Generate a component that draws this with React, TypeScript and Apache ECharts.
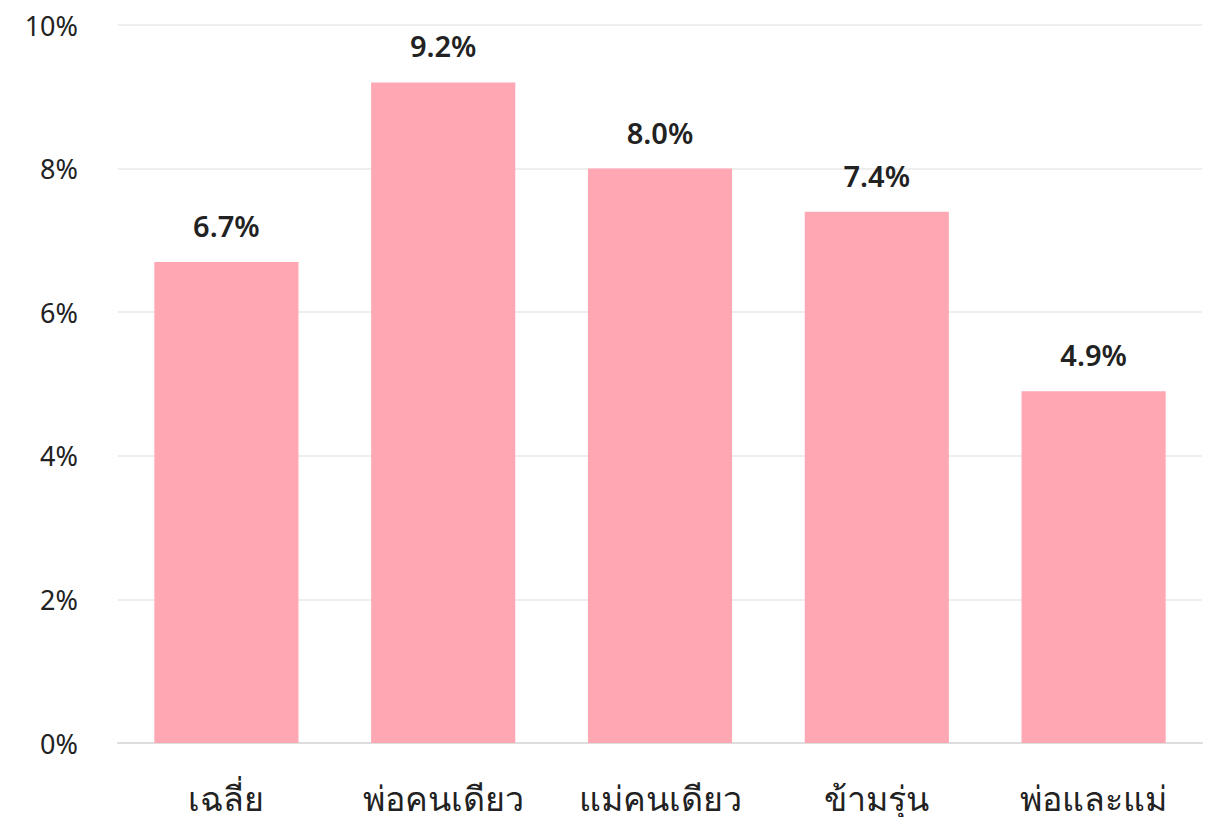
import React, { useEffect, useRef } from "react";
import * as echarts from "echarts";

const categories = ["เฉลี่ย", "พ่อคนเดียว", "แม่คนเดียว", "ข้ามรุ่น", "พ่อและแม่"];
const values = [6.7, 9.2, 8.0, 7.4, 4.9];

export default function App() {
  const ref = useRef<HTMLDivElement>(null);
  useEffect(() => {
    const chart = echarts.init(ref.current!, null, { renderer: "svg" });
    const font = "'Noto Sans', 'DejaVu Sans', sans-serif";
    chart.setOption({
      animation: false,
      grid: { left: 118, right: 14, top: 25, bottom: 82 },
      xAxis: {
        type: "category",
        data: categories,
        axisTick: { show: false },
        axisLine: { lineStyle: { color: "#dddddd", width: 2 } },
        axisLabel: { fontSize: 34, color: "#222222", margin: 38, fontFamily: font },
      },
      yAxis: {
        type: "value",
        min: 0,
        max: 10,
        interval: 2,
        axisLabel: {
          formatter: (v: number) => v + "%",
          fontSize: 27,
          color: "#222222",
          margin: 40,
          fontFamily: font,
        },
        splitLine: { lineStyle: { color: "#eeeeee", width: 2 } },
      },
      series: [
        {
          type: "bar",
          data: values,
          barWidth: "66.5%",
          itemStyle: { color: "#FFA8B4" },
          label: {
            show: true,
            position: "top",
            distance: 22,
            formatter: (p: any) => p.value.toFixed(1) + "%",
            fontSize: 29,
            fontWeight: 600,
            color: "#222222",
            fontFamily: font,
          },
        },
      ],
    });
    return () => chart.dispose();
  }, []);
  return <div ref={ref} style={{ width: 1216, height: 825, margin: -8 }} />;
}
